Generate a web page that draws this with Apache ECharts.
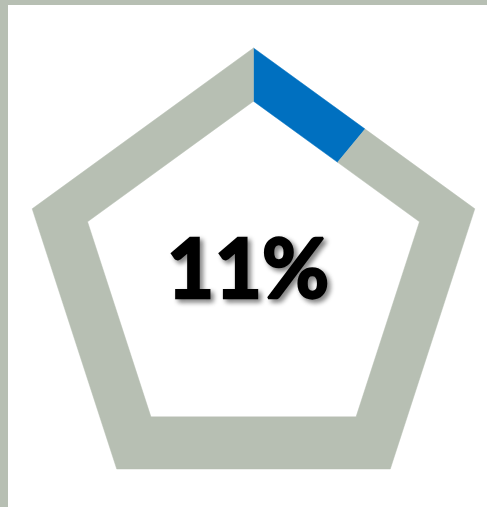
<!DOCTYPE html>
<html><head><meta charset="utf-8">
<script src="https://cdn.jsdelivr.net/npm/echarts@6/dist/echarts.min.js"></script>
<style>html,body{margin:0;padding:0;background:#fff}#c{width:487px;height:507px}</style>
</head><body><div id="c"></div>
<script>
const categories = ['Complete', 'Remaining'];
const percentValues = [11, 89];
const seriesColors = ['#0070C0', '#B7BFB3'];
const centerLabel = percentValues[0] + '%';

// layout (pixel data space)
const OUTER = {cx: 253.5, cy: 280.7, r: 232.7};
const INNER = {cx: 253.5, cy: 275.7, r: 174.5};
const PIE = {x: 253.5, y: 264};

function pentagon(p) {
  const pts = [];
  for (let i = 0; i < 5; i++) {
    const a = i * 72 * Math.PI / 180;
    pts.push([p.cx + p.r * Math.sin(a), p.cy - p.r * Math.cos(a)]);
  }
  return pts;
}
function angleOf(pt) {
  let a = Math.atan2(pt[0] - PIE.x, -(pt[1] - PIE.y)) * 180 / Math.PI;
  if (a < 0) a += 360;
  return a;
}
function rayHit(poly, deg) {
  const th = deg * Math.PI / 180;
  const dx = Math.sin(th), dy = -Math.cos(th);
  let best = null;
  for (let i = 0; i < poly.length; i++) {
    const A = poly[i], B = poly[(i + 1) % poly.length];
    const ex = B[0] - A[0], ey = B[1] - A[1];
    const den = dx * ey - dy * ex;
    if (Math.abs(den) < 1e-9) continue;
    const wx = A[0] - PIE.x, wy = A[1] - PIE.y;
    const t = (wx * ey - wy * ex) / den;
    const u = (wx * dy - wy * dx) / den;
    if (t >= 0 && u >= -1e-9 && u <= 1 + 1e-9) {
      if (!best || t < best.t) best = {t: t, pt: [PIE.x + dx * t, PIE.y + dy * t]};
    }
  }
  return best.pt;
}
function boundary(poly, a, b) {
  const pts = [rayHit(poly, a)];
  const vs = poly.map(p => ({p: p, ang: angleOf(p)}))
    .filter(v => v.ang > a + 1e-6 && v.ang < b - 1e-6)
    .sort((m, n) => m.ang - n.ang);
  vs.forEach(v => pts.push(v.p));
  pts.push(rayHit(poly, b));
  return pts;
}
const outerPoly = pentagon(OUTER);
const innerPoly = pentagon(INNER);

const chart = echarts.init(document.getElementById('c'), null, {renderer: 'canvas'});
chart.setOption({
  animation: false,
  backgroundColor: '#ffffff',
  grid: {left: 0, right: 0, top: 0, bottom: 0},
  xAxis: {type: 'value', min: 0, max: 487, show: false},
  yAxis: {type: 'value', min: 0, max: 507, inverse: true, show: false},
  graphic: [
    {type: 'rect', left: 0, top: 0, shape: {width: 8, height: 507}, style: {fill: '#B7BFB3'}, z: 10},
    {type: 'rect', left: 0, top: 0, shape: {width: 487, height: 5}, style: {fill: '#B7BFB3'}, z: 10}
  ],
  series: [
    {
      type: 'custom',
      data: percentValues.map((v, i) => ({name: categories[i], value: [i, v]})),
      renderItem: function (params, api) {
        const i = params.dataIndex;
        let start = 0;
        for (let k = 0; k < i; k++) start += percentValues[k];
        const a = start * 3.6, b = (start + api.value(1)) * 3.6;
        const pts = boundary(outerPoly, a, b).concat(boundary(innerPoly, a, b).reverse());
        return {
          type: 'polygon',
          shape: {points: pts.map(p => api.coord(p))},
          style: {fill: seriesColors[i], stroke: seriesColors[i], lineWidth: 0.5}
        };
      }
    },
    {
      type: 'custom',
      data: [[248, 272]],
      z: 5,
      renderItem: function (params, api) {
        const p = api.coord([api.value(0), api.value(1)]);
        return {
          type: 'text',
          x: p[0], y: p[1],
          style: {
            text: centerLabel,
            font: 'bold 82px Lato',
            fill: '#000',
            stroke: '#000',
            lineWidth: 2.5,
            align: 'center',
            verticalAlign: 'middle',
            textShadowColor: 'rgba(0,0,0,0.45)',
            textShadowBlur: 5,
            textShadowOffsetX: 3,
            textShadowOffsetY: 3
          }
        };
      }
    }
  ]
});
</script></body></html>
